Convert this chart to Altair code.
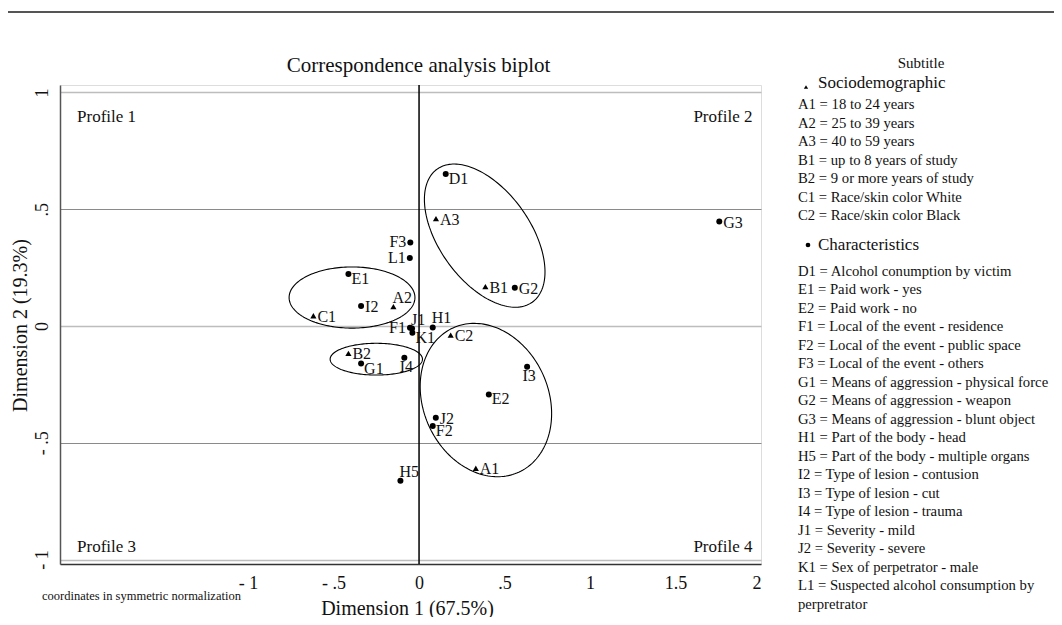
import altair as alt
import numpy as np
import pandas as pd
import textwrap

FONT = "Liberation Serif"

# ---------------- data ----------------
codes = ["A1", "A2", "A3", "B1", "B2", "C1", "C2",
         "D1", "E1", "E2", "F1", "F2", "F3", "G1", "G2", "G3",
         "H1", "H5", "I2", "I3", "I4", "J1", "J2", "K1", "L1"]
dim1 = [0.332, -0.150, 0.099, 0.388, -0.413, -0.618, 0.185,
        0.156, -0.413, 0.408, -0.053, 0.080, -0.051, -0.339, 0.560, 1.756,
        0.080, -0.109, -0.339, 0.632, -0.086, -0.041, 0.098, -0.039, -0.054]
dim2 = [-0.609, 0.083, 0.460, 0.169, -0.117, 0.044, -0.039,
        0.651, 0.223, -0.293, -0.007, -0.428, 0.358, -0.161, 0.164, 0.447,
        -0.006, -0.663, 0.086, -0.174, -0.136, -0.011, -0.393, -0.029, 0.291]
groups = ["Sociodemographic"] * 7 + ["Characteristics"] * 18
# label clock position (Stata style mlabposition)
label_clock = [3, 12, 3, 3, 3, 3, 3,
               4, 4, 4, 9, 4, 9, 4, 3, 3,
               12, 12, 3, 6, 6, 12, 3, 4, 9]
descriptions = [
    "18 to 24 years", "25 to 39 years", "40 to 59 years",
    "up to 8 years of study", "9 or more years of study",
    "Race/skin color White", "Race/skin color Black",
    "Alcohol conumption by victim", "Paid work - yes", "Paid work - no",
    "Local of the event - residence", "Local of the event - public space",
    "Local of the event - others", "Means of aggression - physical force",
    "Means of aggression - weapon", "Means of aggression - blunt object",
    "Part of the body - head", "Part of the body - multiple organs",
    "Type of lesion - contusion", "Type of lesion - cut", "Type of lesion - trauma",
    "Severity - mild", "Severity - severe", "Sex of perpetrator - male",
    "Suspected alcohol consumption by perpretrator",
]

# ellipses: centre and two conjugate semi-axis vectors (data units)
ell_cx = [-0.392, -0.250, 0.384, 0.391]
ell_cy = [0.122, -0.142, 0.387, -0.317]
ell_ux = [0.368, 0.270, 0.278, 0.192]
ell_uy = [0.0, 0.0, -0.285, -0.309]
ell_vx = [0.0, 0.0, -0.217, -0.333]
ell_vy = [0.131, 0.068, -0.113, -0.111]

profile_names = ["Profile 1", "Profile 2", "Profile 3", "Profile 4"]
profile_x = [-2.0, 1.95, -2.0, 1.95]
profile_y = [0.895, 0.895, -0.946, -0.946]
profile_side = ["left", "right", "left", "right"]

x_ticks = [-1, -0.5, 0, 0.5, 1, 1.5, 2]
y_ticks = [-1, -0.5, 0, 0.5, 1]

title_text = "Correspondence analysis biplot"
x_title = "Dimension 1 (67.5%)"
y_title = "Dimension 2 (19.3%)"
note_text = "coordinates in symmetric normalization"
legend_subtitle = "Subtitle"

# ---------------- tables ----------------
pts = pd.DataFrame({"code": codes, "d1": dim1, "d2": dim2,
                    "group": groups, "clock": label_clock})

t = np.linspace(0, 2 * np.pi, 181)
ell_rows = []
for i in range(len(ell_cx)):
    for k, tt in enumerate(t):
        ell_rows.append({
            "e": i, "k": k,
            "x": ell_cx[i] + ell_ux[i] * np.cos(tt) + ell_vx[i] * np.sin(tt),
            "y": ell_cy[i] + ell_uy[i] * np.cos(tt) + ell_vy[i] * np.sin(tt),
        })
ell = pd.DataFrame(ell_rows)

prof = pd.DataFrame({"name": profile_names, "x": profile_x, "y": profile_y,
                     "side": profile_side})

# legend lines
leg_rows = []
row = 0
for c, d, g in zip(codes, descriptions, groups):
    if g == "Characteristics" and row < 9:
        row = 9
    for ln in textwrap.wrap(f"{c} = {d}", width=42):
        leg_rows.append({"text": ln, "row": row})
        row += 1
leg = pd.DataFrame(leg_rows)

# ---------------- scales ----------------
xs = alt.Scale(domain=[-2.1, 2.0], nice=False, zero=False)
ys = alt.Scale(domain=[-1.019, 1.032], nice=False, zero=False)

label_expr = "(datum.value < 0 ? '- ' : '') + replace(toString(abs(datum.value)), '0.', '.')"

X = alt.X("d1:Q", scale=xs, axis=alt.Axis(
    values=x_ticks, labelExpr=label_expr, grid=False, ticks=False, tickSize=0,
    labelPadding=19, labelBaseline="middle", labelFontSize=18, labelFont=FONT,
    labelColor="#111", domainColor="#333", domainWidth=1.5,
    title=x_title, titleFont=FONT, titleFontSize=20, titleFontWeight="normal",
    titleColor="#111", titleY=44, titleBaseline="middle", titleX=347))
Y = alt.Y("d2:Q", scale=ys, axis=alt.Axis(
    values=y_ticks, labelExpr=label_expr, ticks=False, tickSize=0,
    labelAngle=270, labelPadding=18, labelBaseline="middle", labelAlign="center",
    labelFontSize=18, labelFont=FONT, labelColor="#111",
    domainColor="#555", domainWidth=1.5,
    grid=True,
    gridColor={"condition": {"test": "abs(datum.value) == 0.5", "value": "#8a8a8a"},
               "value": "#bdbdbd"},
    gridWidth={"condition": {"test": "abs(datum.value) == 0.5", "value": 1},
               "value": 1.6},
    title=y_title, titleFont=FONT, titleFontSize=20, titleFontWeight="normal",
    titleColor="#111", titleAngle=270, titleX=-40, titleY=240,
    titleBaseline="middle", titleAlign="center"))

base = alt.Chart(pts)

points = base.mark_point(filled=True, opacity=1, color="black").encode(
    x=X, y=Y,
    shape=alt.Shape("group:N", scale=alt.Scale(
        domain=["Sociodemographic", "Characteristics"],
        range=["triangle-up", "circle"]), legend=None),
    size=alt.Size("group:N", scale=alt.Scale(
        domain=["Sociodemographic", "Characteristics"], range=[38, 36]), legend=None),
)

label_styles = {
    3: dict(align="left", dx=4, dy=1),
    4: dict(align="left", dx=3, dy=5),
    9: dict(align="right", dx=-4, dy=0),
    12: dict(align="left", dx=-1, dy=-9),
    6: dict(align="center", dx=2, dy=9),
}
label_layers = []
for clk, st in label_styles.items():
    label_layers.append(
        base.transform_filter(f"datum.clock == {clk}").mark_text(
            font=FONT, fontSize=16, color="#111", baseline="middle", **st
        ).encode(x=alt.X("d1:Q", scale=xs), y=alt.Y("d2:Q", scale=ys), text="code:N")
    )

zero_line = alt.Chart(pd.DataFrame({"d1": [0.0]})).mark_rule(
    color="black", strokeWidth=1.5).encode(x=alt.X("d1:Q", scale=xs))

ellipses = alt.Chart(ell).mark_line(color="black", strokeWidth=1.1).encode(
    x=alt.X("x:Q", scale=xs), y=alt.Y("y:Q", scale=ys),
    detail="e:N", order="k:Q")

prof_layers = []
for side in ["left", "right"]:
    prof_layers.append(
        alt.Chart(prof).transform_filter(f"datum.side == '{side}'").mark_text(
            font=FONT, fontSize=17, color="#111", align=side, baseline="middle"
        ).encode(x=alt.X("x:Q", scale=xs), y=alt.Y("y:Q", scale=ys), text="name:N")
    )

main = alt.layer(points, zero_line, ellipses, *label_layers, *prof_layers)

# ---------------- legend (right) ----------------
leg_y = alt.Y("row:Q", scale=alt.Scale(domain=[0, 27], range=[20, 519.5]), axis=None)
leg_items = alt.Chart(leg).mark_text(
    font=FONT, fontSize=14.7, color="#111", align="left", baseline="middle"
).encode(x=alt.value(738), y=leg_y, text="text:N")

hdr = pd.DataFrame({"text": [legend_subtitle, "Sociodemographic", "Characteristics"]})
hdr_sub = alt.Chart(hdr).transform_filter("datum.text == 'Subtitle'").mark_text(
    font=FONT, fontSize=15, color="#111", align="center", baseline="middle"
).encode(x=alt.value(861), y=alt.value(-22), text="text:N")
hdr_soc = alt.Chart(hdr).transform_filter("datum.text == 'Sociodemographic'").mark_text(
    font=FONT, fontSize=17, color="#111", align="left", baseline="middle"
).encode(x=alt.value(758), y=alt.value(-2), text="text:N")
hdr_chr = alt.Chart(hdr).transform_filter("datum.text == 'Characteristics'").mark_text(
    font=FONT, fontSize=17, color="#111", align="left", baseline="middle"
).encode(x=alt.value(758), y=alt.value(160), text="text:N")
sym = pd.DataFrame({"group": ["Sociodemographic", "Characteristics"]})
sym_soc = alt.Chart(sym).transform_filter("datum.group == 'Sociodemographic'").mark_point(
    filled=True, opacity=1, color="black", shape="triangle-up", size=18
).encode(x=alt.value(746), y=alt.value(2))
sym_chr = alt.Chart(sym).transform_filter("datum.group == 'Characteristics'").mark_point(
    filled=True, opacity=1, color="black", shape="circle", size=22
).encode(x=alt.value(748), y=alt.value(160))

note = alt.Chart(pd.DataFrame({"text": [note_text]})).mark_text(
    font=FONT, fontSize=12.5, color="#111", align="left", baseline="middle"
).encode(x=alt.value(-18), y=alt.value(511), text="text:N")

top_rule = alt.Chart(pd.DataFrame({"v": [1]})).mark_rule(
    color="#555", strokeWidth=2).encode(
    x=alt.value(-52), x2=alt.value(994), y=alt.value(-73))

legend = alt.layer(leg_items, hdr_sub, hdr_soc, hdr_chr, sym_soc, sym_chr, note, top_rule)

chart = alt.layer(main, legend).resolve_scale(y="independent").properties(
    width=701, height=479,
    title=alt.TitleParams(title_text, font=FONT, fontSize=21, fontWeight="normal",
                          color="#111", anchor="middle", frame="group",
                          dx=8, offset=0, dy=76, baseline="middle"),
    autosize=alt.AutoSizeParams(type="none"),
    padding={"left": 52, "top": 77, "right": 293, "bottom": 53},
).configure_view(stroke=None).configure(background="white")

chart.save("out.html", embed_options={"renderer": "svg", "actions": False})
